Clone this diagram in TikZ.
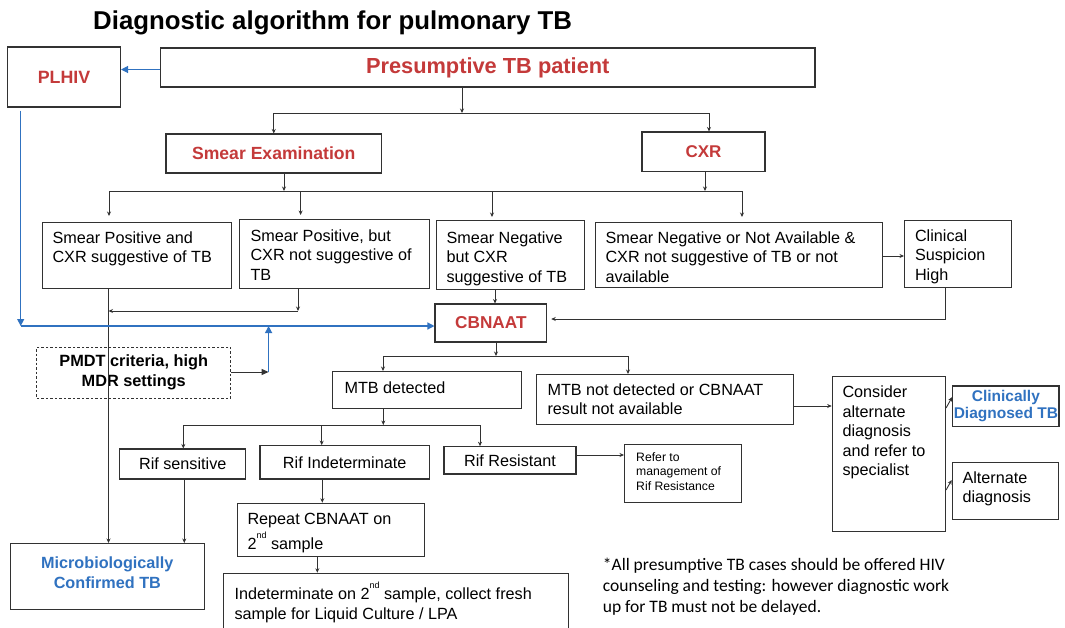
\documentclass[tikz,border=0pt]{standalone}
\usepackage{fontspec}
\setmainfont{Liberation Sans}
\newfontfamily\calib{Carlito}
\usetikzlibrary{arrows.meta}
\definecolor{tbred}{RGB}{196,58,58}
\definecolor{tbblue}{RGB}{48,114,192}
\definecolor{linec}{RGB}{50,50,50}
\newcommand{\tlbox}[5]{\parbox[c][#2pt][t]{#1pt}{\vspace*{#4pt}\raggedright\leftskip=#3pt\relax #5\par}}
\newcommand{\ctbox}[4]{\parbox[c][#2pt][t]{#1pt}{\vspace*{#3pt}\centering #4\par}}
\newcommand{\sups}{\raisebox{11pt}{\fontsize{9}{9}\selectfont nd}}
\begin{document}
\begin{tikzpicture}[x=1pt,y=-1pt,
  box/.style={draw=linec, line width=1.05pt, inner sep=0pt, fill=white, text=black, font=\fontsize{16.2}{19.5}\selectfont},
  cbox/.style={box, align=center},
  arr/.style={draw=linec, line width=0.9pt, -{Stealth[length=4.5pt,width=4pt]}},
  blarr/.style={draw=tbblue, line width=1.2pt, -{Triangle[length=7pt,width=7pt]}},
  ln/.style={draw=linec, line width=0.9pt}]
\useasboundingbox (0,0) rectangle (1065,627);
\clip (0,0) rectangle (1065,627);

% title
\node[anchor=base west, inner sep=0pt, font=\fontsize{25.8}{30}\selectfont\bfseries] (title) at (93,29) {Diagnostic algorithm for pulmonary TB};

% top row
\node[cbox, minimum width=113pt, minimum height=60pt, text=tbred, font=\fontsize{17.8}{20}\selectfont\bfseries] (plhiv) at (64,77) {PLHIV};
\node[cbox, minimum width=654.5pt, minimum height=39pt, text=tbred, font=\fontsize{21.8}{24}\selectfont\bfseries] (pres) at (487.75,67.5) {Presumptive TB patient};
\node[cbox, minimum width=215.5pt, minimum height=39pt, text=tbred, font=\fontsize{17.6}{20}\selectfont\bfseries] (smear) at (273.75,153.5) {Smear Examination};
\node[cbox, minimum width=123pt, minimum height=39.5pt, text=tbred, font=\fontsize{17}{20}\selectfont\bfseries] (cxr) at (703.5,151.75) {CXR};

% result row
\node[box, anchor=north west] (b1) at (42,222) {\tlbox{189}{66}{10}{9}{Smear Positive and\\CXR suggestive of TB}};
\node[box, anchor=north west] (b2) at (239,219) {\tlbox{190}{69}{11}{10}{Smear Positive, but\\CXR not suggestive of\\TB}};
\node[box, anchor=north west] (b3) at (435.6,220) {\tlbox{148}{69}{10.4}{11}{Smear Negative\\but CXR\\suggestive of TB}};
\node[box, anchor=north west] (b4) at (594.7,222) {\tlbox{286.8}{65}{10.3}{9}{Smear Negative or Not Available \&\\CXR not suggestive of TB or not\\available}};
\node[box, anchor=north west] (b5) at (904,220) {\tlbox{107}{67}{10.5}{9}{Clinical\\Suspicion\\High}};

% CBNAAT and PMDT
\node[cbox, minimum width=111.7pt, minimum height=38pt, text=tbred, font=\fontsize{17.2}{20}\selectfont\bfseries] (cbn) at (490.85,323) {CBNAAT};
\node[cbox, dash pattern=on 2.5pt off 2pt, line width=1pt, minimum width=194pt, minimum height=51pt, font=\fontsize{16.3}{20}\selectfont\bfseries] (pmdt) at (133.75,372.5) {PMDT criteria, high\\MDR settings};

% MTB row
\node[box, anchor=north west] (mtbd) at (332,371) {\tlbox{189}{37}{12}{10}{MTB detected}};
\node[box, anchor=north west] (mtbn) at (535.6,374) {\tlbox{257.4}{50}{11.4}{9}{MTB not detected or CBNAAT\\result not available}};
\node[box, anchor=north west] (cons) at (831.7,376) {\tlbox{113.3}{155}{10.3}{9.7}{Consider\\alternate\\diagnosis\\and refer to\\specialist}};
\node[cbox, minimum width=106.3pt, minimum height=40.7pt, text=tbblue, font=\fontsize{15.5}{17}\selectfont\bfseries] (clin) at (1005.85,406.35) {Clinically\\Diagnosed TB};
\node[box, anchor=north west] (alt) at (951.7,461.7) {\tlbox{106.3}{57.3}{10.3}{9.3}{Alternate\\diagnosis}};

% Rif row
\node[cbox, minimum width=125.9pt, minimum height=30pt] (rifs) at (182.75,464) {Rif sensitive};
\node[cbox, minimum width=169.3pt, minimum height=33.3pt] (rifi) at (344.65,462.35) {Rif Indeterminate};
\node[cbox, minimum width=132pt, minimum height=27.3pt] (rifr) at (510,460.35) {Rif Resistant};
\node[box, anchor=north west, font=\fontsize{12.2}{14.2}\selectfont] (refer) at (624,444) {\tlbox{116.7}{58}{11.7}{8.3}{Refer to\\management of\\Rif Resistance}};

% bottom
\node[box, anchor=north west, text=tbblue, font=\fontsize{16.2}{20}\selectfont\bfseries] (micro) at (9.6,543) {\ctbox{194.4}{66}{12.9}{Microbiologically\\Confirmed TB}};
\node[box, anchor=north west] (rep) at (236.7,502.7) {\tlbox{187.6}{53}{10.3}{10.3}{Repeat CBNAAT on\\[3pt]2\sups{} sample}};
\node[box, anchor=north west] (ind2) at (223.3,572.7) {\tlbox{344.4}{70}{10.7}{8.9}{Indeterminate on 2\sups{} sample, collect fresh\\sample for Liquid Culture / LPA}};
\node[anchor=north west, inner sep=0pt, align=left, font=\calib\fontsize{17.5}{20.8}\selectfont] (note) at (602.7,558) {*All presumptive TB cases should be offered HIV\\counseling and testing: however diagnostic work\\up for TB must not be delayed.};

% ---- connectors ----
\coordinate (ya) at (0,69.5);
\draw[blarr] (pres.west |- ya) -- (plhiv.east |- ya);

\coordinate (j1) at (462,113);
\coordinate (j1r) at (709,113);
\draw[arr] (pres.south -| j1) -- (j1);
\draw[ln] (smear.north |- j1) -- (j1r);
\draw[arr] (smear.north |- j1) -- (smear.north);
\draw[arr] (j1r) -- (cxr.north -| j1r);

\coordinate (j2l) at (109,191);
\coordinate (j2r) at (742,191);
\coordinate (j2s) at (284,191);
\coordinate (j2c) at (705,191);
\coordinate (j2b) at (300.6,191);
\coordinate (j2m) at (492,191);
\draw[arr] (smear.south -| j2s) -- (j2s);
\draw[arr] (cxr.south -| j2c) -- (j2c);
\draw[ln] (j2l) -- (j2r);
\draw[arr, shorten >=6pt] (j2l) -- (b1.north -| j2l);
\draw[arr, shorten >=4pt] (j2b) -- (b2.north -| j2b);
\draw[arr, shorten >=3pt] (j2m) -- (b3.north -| j2m);
\draw[arr, shorten >=5pt] (j2r) -- (b4.north -| j2r);

\coordinate (y256) at (0,256);
\draw[arr] (b4.east |- y256) -- (b5.west |- y256);

\coordinate (k5) at (945,319);
\draw[arr, shorten >=4pt] (b5.south -| k5) -- (k5) -- (cbn.east |- k5);

\coordinate (k3) at (495,0);
\draw[arr] (b3.south -| k3) -- (cbn.north -| k3);

\coordinate (k2) at (298,311);
\coordinate (k1) at (108.5,311);
\draw[arr] (b2.south -| k2) -- (k2);
\draw[arr] (k2) -- (k1);
\draw[arr] (b1.south -| k1) -- (micro.north -| k1);

\coordinate (bl) at (20.7,326);
\draw[blarr, shorten <=3pt] (plhiv.south -| bl) -- (bl);
\draw[blarr] (bl) -- (cbn.west |- bl);

\coordinate (pm) at (268.6,372);
\draw[draw=linec, line width=1pt, -{Triangle[length=7pt,width=6pt]}] (pmdt.east |- pm) -- (pm);
\draw[blarr] (pm) -- (pm |- bl);

\coordinate (m0) at (496,356);
\coordinate (ml) at (383,356);
\coordinate (mr) at (628,356);
\draw[arr] (cbn.south -| m0) -- (m0);
\draw[ln] (ml) -- (mr);
\draw[arr] (ml) -- (mtbd.north -| ml);
\draw[arr] (mr) -- (mtbn.north -| mr);

\coordinate (r0) at (383.3,425);
\coordinate (rl) at (183.3,425);
\coordinate (rm) at (321.7,425);
\coordinate (rr) at (480,425);
\draw[arr] (mtbd.south -| r0) -- (r0);
\draw[ln] (rl) -- (rr);
\draw[arr] (rl) -- (rifs.north -| rl);
\draw[arr] (rm) -- (rifi.north -| rm);
\draw[arr] (rr) -- (rifr.north -| rr);

\coordinate (y455) at (0,455);
\draw[arr] (rifr.east |- y455) -- (refer.west |- y455);

\coordinate (y406) at (0,406);
\draw[arr] (mtbn.east |- y406) -- (cons.west |- y406);

\coordinate (ca1) at (0,408);
\coordinate (cb1) at (0,397);
\coordinate (ca2) at (0,490);
\coordinate (cb2) at (0,480);
\draw[arr] (cons.east |- ca1) -- (clin.west |- cb1);
\draw[arr] (cons.east |- ca2) -- (alt.west |- cb2);

\coordinate (s1) at (184.3,0);
\coordinate (s2) at (322.3,0);
\coordinate (s3) at (317.3,0);
\draw[arr] (rifs.south -| s1) -- (micro.north -| s1);
\draw[arr] (rifi.south -| s2) -- (rep.north -| s2);
\draw[arr] (rep.south -| s3) -- (ind2.north -| s3);
\end{tikzpicture}
\end{document}
